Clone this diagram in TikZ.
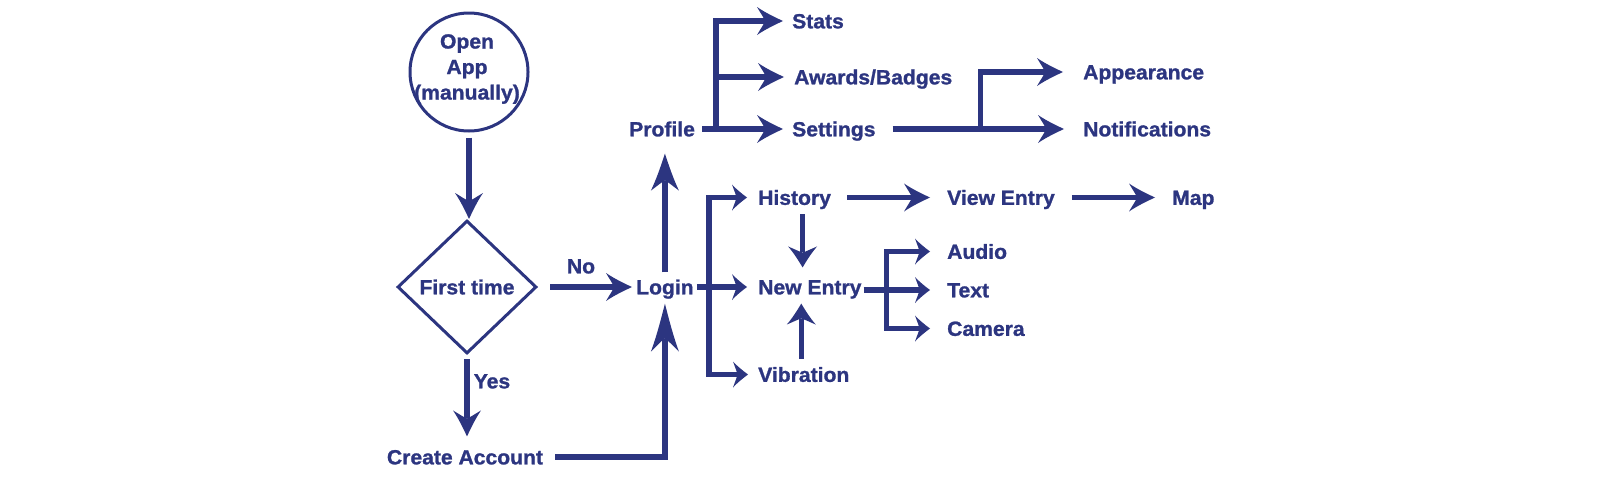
\documentclass[tikz,border=0pt]{standalone}
\usepackage{fontspec}
\newfontfamily\lab{Liberation Sans}[FakeStretch=1.03, FakeBold=1.2]
\usetikzlibrary{arrows.meta,shapes.geometric,calc}
\definecolor{navy}{RGB}{44,53,128}
\newdimen\curvyd
\pgfdeclarearrow{
  name = Curvy,
  parameters = {\the\pgfarrowlength,\the\pgfarrowwidth,\the\pgfarrowinset},
  setup code = {
    \curvyd=\pgfarrowinset
    \advance\curvyd by -\pgfarrowlength
    \pgfarrowssettipend{0pt}
    \pgfarrowssetbackend{-\pgfarrowlength}
    \pgfarrowssetlineend{\curvyd}
    \pgfarrowssetvisualbackend{\curvyd}
    \pgfarrowshullpoint{0pt}{0pt}
    \pgfarrowshullpoint{-\pgfarrowlength}{.5\pgfarrowwidth}
    \pgfarrowshullpoint{-\pgfarrowlength}{-.5\pgfarrowwidth}
    \pgfarrowssavethe\pgfarrowlength
    \pgfarrowssavethe\pgfarrowwidth
    \pgfarrowssavethe\pgfarrowinset
  },
  drawing code = {
    \curvyd=\pgfarrowinset
    \advance\curvyd by -\pgfarrowlength
    \pgfpathmoveto{\pgfpoint{0pt}{0pt}}
    \pgfpathcurveto{\pgfpoint{-.35\pgfarrowlength}{.15\pgfarrowwidth}}{\pgfpoint{-.7\pgfarrowlength}{.31\pgfarrowwidth}}{\pgfpoint{-\pgfarrowlength}{.5\pgfarrowwidth}}
    \pgfpathcurveto{\pgfpoint{.4\pgfarrowinset-\pgfarrowlength}{.3\pgfarrowwidth}}{\pgfpoint{.9\pgfarrowinset-\pgfarrowlength}{.1\pgfarrowwidth}}{\pgfpoint{\curvyd}{0pt}}
    \pgfpathcurveto{\pgfpoint{.9\pgfarrowinset-\pgfarrowlength}{-.1\pgfarrowwidth}}{\pgfpoint{.4\pgfarrowinset-\pgfarrowlength}{-.3\pgfarrowwidth}}{\pgfpoint{-\pgfarrowlength}{-.5\pgfarrowwidth}}
    \pgfpathcurveto{\pgfpoint{-.7\pgfarrowlength}{-.31\pgfarrowwidth}}{\pgfpoint{-.35\pgfarrowlength}{-.15\pgfarrowwidth}}{\pgfpoint{0pt}{0pt}}
    \pgfpathclose
    \pgfusepathqfill
  },
  defaults = {length=26pt, width=28pt, inset=8pt}
}
\begin{document}
\begin{tikzpicture}[x=1pt,y=-1pt,
  lbl/.style={font=\lab\bfseries\fontsize{20.5}{24}\selectfont, text=navy, inner sep=0pt, text height=14.7pt, text depth=0pt},
  lblw/.style={lbl, anchor=west},
  lblm/.style={font=\lab\bfseries\fontsize{20.5}{25.5}\selectfont, text=navy, inner sep=0pt, align=center},
  shp/.style={draw=navy, line width=3pt},
  ln/.style={color=navy, line width=5.5pt},
  tipA/.style={-{Curvy[length=26pt,width=28pt,inset=8pt]}},
  tipS/.style={-{Curvy[length=15pt,width=26pt,inset=4.5pt]}},
  tipM/.style={-{Curvy[length=21pt,width=29pt,inset=6pt]}},
  tipL/.style={-{Curvy[length=37pt,width=28pt,inset=10pt]}},
  tipXL/.style={-{Curvy[length=48pt,width=28pt,inset=13pt]}}
]
\useasboundingbox (0,0) rectangle (1600,480);

% start and decision
\node[shp, circle, minimum size=118pt, inner sep=0pt] (open) at (469,72) {};
\node[lblm] (opentext) at (467,69) {Open\\App\\(manually)};
\node[lbl, shp, diamond, minimum width=139pt, minimum height=133pt] (first) at (467,287) {First time};
\node[lbl] (create) at (465,457) {Create Account};
\node[lbl] (yes) at (492,381) {Yes};
\node[lbl] (no) at (581,266) {No};

% main column
\node[lblw] (login) at (636,287) {Login};
\node[lblw] (profile) at (629,129) {Profile};
\node[lblw] (stats) at (792,21) {Stats};
\node[lblw] (awards) at (794,77) {Awards/Badges};
\node[lblw] (settings) at (792,129) {Settings};
\node[lblw] (appearance) at (1083,72) {Appearance};
\node[lblw] (notif) at (1083,129) {Notifications};
\node[lblw] (history) at (758,197.5) {History};
\node[lblw] (newentry) at (758,287) {New Entry};
\node[lblw] (vibration) at (758,374.5) {Vibration};
\node[lblw] (viewentry) at (947,197.5) {View Entry};
\node[lblw] (map) at (1172,197.5) {Map};
\node[lblw] (audio) at (947,251.5) {Audio};
\node[lblw] (text) at (947,290) {Text};
\node[lblw] (camera) at (947,328.5) {Camera};

% connectors
\draw[ln, tipA, shorten <=5pt] (open.south) -- (open.south |- first.north);
\draw[ln, tipA, shorten <=4pt, shorten >=13pt] (first.south) -- (first.south |- create.north);
\draw[ln, tipA, shorten <=12pt, shorten >=4pt] (first.east) -- (login.west);
\draw[ln, tipXL, shorten <=12pt, shorten >=9pt] (create.east) -| (login.south);
\draw[ln, tipL, shorten <=7pt, shorten >=17pt] (login.north) -- (login.north |- profile.south);

% profile branch
\coordinate (pb) at ([xshift=21pt]profile.east);
\draw[ln, tipA, shorten <=7pt, shorten >=9pt] (profile.east) -- (settings.west);
\draw[ln, tipA, shorten >=9pt] (pb) |- (stats.west);
\draw[ln, tipA, shorten >=10pt] (pb) |- (awards.west);

% settings branch
\coordinate (sb) at ([xshift=105pt]settings.east);
\draw[ln, tipA, shorten <=17pt, shorten >=19pt] (settings.east) -- (notif.west);
\draw[ln, tipA, shorten >=20pt] (sb) |- (appearance.west);

% login branch
\coordinate (lb) at ([xshift=15pt]login.east);
\draw[ln, tipS, shorten <=3pt, shorten >=11pt] (login.east) -- (newentry.west);
\draw[ln, tipS, shorten >=11pt] (lb) |- (history.west);
\draw[ln, tipS, shorten >=10pt] (lb) |- (vibration.west);

\draw[ln, tipM, shorten <=9pt, shorten >=12pt] ([xshift=8pt]history.south) -- ([xshift=8pt]history.south |- newentry.north);
\draw[ln, tipM, shorten <=8pt, shorten >=9pt] ([xshift=-2.5pt]vibration.north) -- ([xshift=-2.5pt]vibration.north |- newentry.south);

\draw[ln, tipA, shorten <=16pt, shorten >=17pt] (history.east) -- (viewentry.west);
\draw[ln, tipA, shorten <=17pt, shorten >=17pt] (viewentry.east) -- (map.west);

% new entry branch
\coordinate (nb) at ([xshift=25pt]newentry.east |- text.west);
\draw[ln, tipS, shorten <=2pt, shorten >=17pt] (newentry.east |- text.west) -- (text.west);
\draw[ln, tipS, shorten >=17pt] (nb) |- (audio.west);
\draw[ln, tipS, shorten >=17pt] (nb) |- (camera.west);
\end{tikzpicture}
\end{document}
